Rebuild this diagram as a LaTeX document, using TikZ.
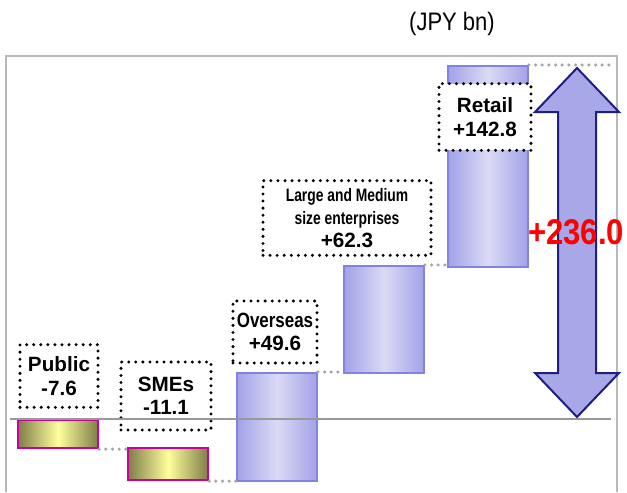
\documentclass[tikz,border=0pt]{standalone}
\usepackage{fontspec}
\setmainfont{Liberation Sans}
\usetikzlibrary{positioning}

\definecolor{barblue}{HTML}{A2A2E8}
\definecolor{barpale}{HTML}{DADAF5}
\definecolor{baredge}{HTML}{8282E0}
\definecolor{barolive}{HTML}{7E7E4A}
\definecolor{barcream}{HTML}{FFFF9C}
\definecolor{baredgeneg}{HTML}{CC0099}
\definecolor{arrowfill}{HTML}{A8A8E8}
\definecolor{arrowedge}{HTML}{1E1E84}
\newcommand{\squeeze}[2]{\scalebox{#1}[1]{#2}}

\begin{document}
\begin{tikzpicture}[x=0.75pt,y=-0.75pt,
    upbar/.style={draw=baredge,line width=1.4pt,left color=barblue,
        right color=barblue,middle color=barpale,inner sep=0pt,
        minimum width=60pt,anchor=north west},
    downbar/.style={draw=baredgeneg,line width=1.6pt,left color=barolive,
        right color=barolive,middle color=barcream,inner sep=0pt,
        minimum width=60pt,anchor=north west},
    tag/.style={draw=black,fill=white,line width=2.5pt,line cap=round,
        dash pattern=on 0pt off 5.3pt,align=center,inner sep=0pt,
        font=\fontsize{15.5}{17.5}\selectfont\bfseries},
    link/.style={draw=gray!70,line width=2.6pt,line cap=round,
        dash pattern=on 0pt off 5pt}]
\useasboundingbox (0,0) rectangle (627,492);
% frame and unit
\draw[gray!55,line width=1.2pt] (6,492) -- (6,56) -- (617,56) -- (617,492);
\node[font=\fontsize{16.5}{18}\selectfont] (unit) at (452,24) {\scalebox{1}[1.15]{(JPY bn)}};
% bars
\node[downbar,minimum height=21pt] (public) at (17,419) {};
\node[downbar,minimum height=24pt] (smes) at (127,447) {};
\node[upbar,minimum height=81pt] (overseas) at (236,372) {};
\node[upbar,minimum height=80.5pt] (lme) at (343,265) {};
\node[upbar,minimum height=150.5pt] (retail) at (447,65) {};
\coordinate (edge) at (611,65);
% steps between bars
\draw[link] (public.south east) -- (public.south east -| smes.west);
\draw[link] (smes.south east) -- (smes.south east -| overseas.west);
\draw[link] (overseas.north east) -- (overseas.north east -| lme.west);
\draw[link] (lme.north east) -- (lme.north east -| retail.west);
\draw[link] (retail.north east) -- (edge);
% labels
\node[tag,minimum width=58.5pt,minimum height=47pt] (publictag) at (59,376) {Public\\-7.6};
\node[tag,minimum width=67.5pt,minimum height=51pt] (smestag) at (166,396) {SMEs\\-11.1};
\node[tag,minimum width=63pt,minimum height=46.5pt] (overseastag) at (275,332) {\squeeze{0.82}{Overseas}\\+49.6};
\node[tag,minimum width=126pt,minimum height=56pt] (lmetag) at (347,218)
    {\fontsize{13.5}{14.2}\selectfont\squeeze{0.77}{Large and Medium}\\
     \fontsize{13.5}{14.2}\selectfont\squeeze{0.77}{size enterprises}\\+62.3};
\node[tag,minimum width=69pt,minimum height=50pt] (retailtag) at (485,117) {Retail\\+142.8};
% zero line
\draw[gray!80,line width=1.5pt] (10,419) -- (611,419);
% total
\draw[fill=arrowfill,draw=arrowedge,line width=1.5pt,line join=miter]
    (577,68) -- (619,112) -- (596,112) -- (596,373) -- (619,373) -- (577,417)
    -- (535,373) -- (558,373) -- (558,112) -- (535,112) -- cycle;
\node[text=red,font=\fontsize{23.3}{26}\selectfont\bfseries] (total) at (576,232) {\scalebox{1}[1.15]{+236.0}};
\end{tikzpicture}
\end{document}
